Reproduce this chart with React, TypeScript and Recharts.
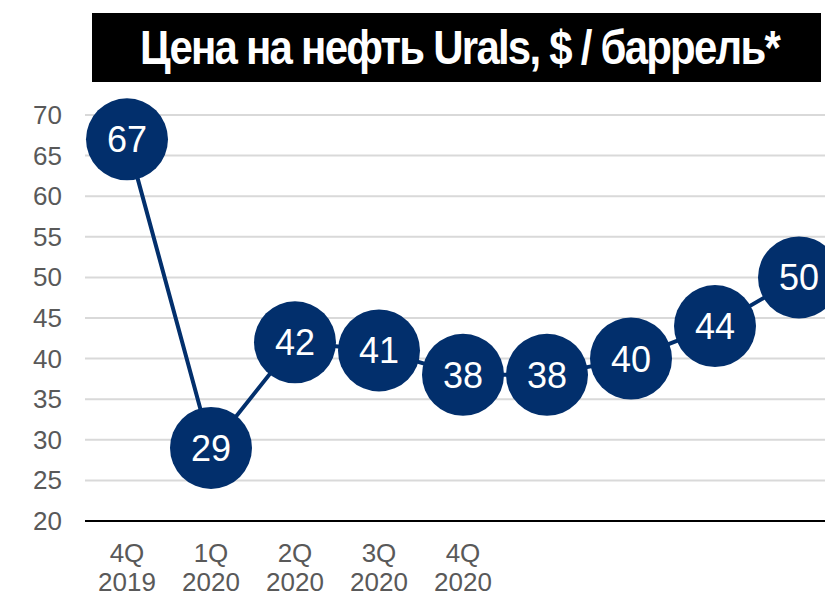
import { LineChart, Line, XAxis, YAxis, CartesianGrid } from 'recharts';

const quarters = ['4Q', '1Q', '2Q', '3Q', '4Q', '', '', '', ''];
const years = ['2019', '2020', '2020', '2020', '2020', '', '', '', ''];
const prices = [67, 29, 42, 41, 38, 38, 40, 44, 50];
const yTicks = [20, 25, 30, 35, 40, 45, 50, 55, 60, 65, 70];

const data = prices.map((price, i) => ({ key: `p${i}`, quarter: quarters[i], year: years[i], price }));

const NAVY = '#022F6C';
const FONT = '"Liberation Sans", Arial, sans-serif';

function QuarterTick(props: any) {
  const { x, y, payload } = props;
  const row = data[payload.index] || data.find((d) => d.key === payload.value);
  if (!row || !row.quarter) return null;
  return (
    <text x={x} textAnchor="middle" fill="#595959" fontSize={26} fontFamily={FONT}>
      <tspan x={x} y={y + 33}>{row.quarter}</tspan>
      <tspan x={x} y={y + 62}>{row.year}</tspan>
    </text>
  );
}

function PriceTick(props: any) {
  const { x, y, payload } = props;
  return (
    <text x={x} y={y + 9} textAnchor="end" fill="#595959" fontSize={26} fontFamily={FONT}>
      {payload.value}
    </text>
  );
}

function BubbleDot(props: any) {
  const { cx, cy, value, index } = props;
  if (cx == null || cy == null) return null;
  return (
    <g key={`dot-${index}`}>
      <circle cx={cx} cy={cy} r={41} fill={NAVY} />
      <text x={cx} y={cy + 13} textAnchor="middle" fill="#fff" fontSize={36} fontFamily={FONT}>
        {value}
      </text>
    </g>
  );
}

export default function App() {
  return (
    <div
      style={{
        position: 'fixed',
        left: 0,
        top: 0,
        width: 825,
        height: 595,
        overflow: 'hidden',
        background: '#fff',
      }}
    >
      <svg width={825} height={90} style={{ position: 'absolute', left: 0, top: 0 }}>
        <rect x={92} y={13} width={729} height={69} fill="#000" />
        <text
          x={140}
          y={64}
          fill="#fff"
          fontSize={48}
          fontWeight="bold"
          fontFamily='"Liberation Sans", Arial, sans-serif'
          letterSpacing={-2}
          textLength={639}
          lengthAdjust="spacingAndGlyphs"
        >
          Цена на нефть Urals, $ / баррель*
        </text>
      </svg>
      <div style={{ position: 'absolute', left: 0, top: 0 }}>
        <LineChart
          width={860}
          height={595}
          data={data}
          margin={{ top: 115, right: 19, bottom: 0, left: 0 }}
        >
          <CartesianGrid vertical={false} stroke="#d9d9d9" strokeWidth={2} />
          <XAxis
            dataKey="key"
            tick={<QuarterTick />}
            tickLine={false}
            axisLine={{ stroke: '#000', strokeWidth: 2 }}
            interval={0}
            padding={{ left: 42, right: 42 }}
            height={74}
          />
          <YAxis
            domain={[20, 70]}
            ticks={yTicks}
            interval={0}
            width={85}
            tickLine={false}
            axisLine={false}
            tickSize={0}
            tickMargin={23}
            tick={<PriceTick />}
          />
          <Line
            type="linear"
            dataKey="price"
            stroke={NAVY}
            strokeWidth={4}
            dot={<BubbleDot />}
            activeDot={false}
            isAnimationActive={false}
          />
        </LineChart>
      </div>
    </div>
  );
}
